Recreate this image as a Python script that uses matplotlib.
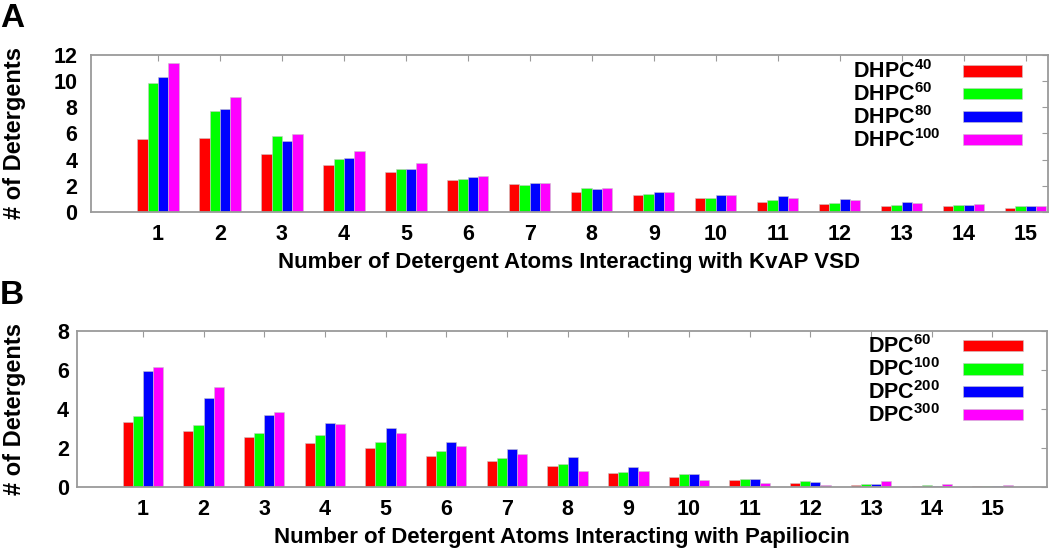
import matplotlib
matplotlib.use("Agg")
import matplotlib.pyplot as plt
from matplotlib.patches import Rectangle
import numpy as np

plt.rcParams['font.family'] = ['Liberation Sans', 'DejaVu Sans']
plt.rcParams['font.weight'] = 'bold'
plt.rcParams['mathtext.fontset'] = 'custom'
plt.rcParams['mathtext.rm'] = 'Liberation Sans:bold'
plt.rcParams['mathtext.bf'] = 'Liberation Sans:bold'
plt.rcParams['mathtext.it'] = 'Liberation Sans:bold'

# number of detergent atoms interacting
atoms = np.arange(1, 16)

# panel A: KvAP VSD in DHPC micelles
dhpc_labels = [r'$\mathrm{DHPC}^{40}$', r'$\mathrm{DHPC}^{60}$',
               r'$\mathrm{DHPC}^{80}$', r'$\mathrm{DHPC}^{100}$']
dhpc40 = [5.6, 5.67, 4.42, 3.6, 3.03, 2.42, 2.11, 1.52, 1.33, 1.1, 0.77, 0.64, 0.46, 0.44, 0.33]
dhpc60 = [9.85, 7.73, 5.84, 4.04, 3.26, 2.52, 2.06, 1.8, 1.41, 1.07, 0.92, 0.72, 0.57, 0.51, 0.44]
dhpc80 = [10.31, 7.86, 5.45, 4.09, 3.29, 2.67, 2.21, 1.72, 1.53, 1.27, 1.22, 1.0, 0.75, 0.51, 0.44]
dhpc100 = [11.39, 8.81, 5.99, 4.68, 3.75, 2.78, 2.24, 1.8, 1.53, 1.29, 1.07, 0.95, 0.69, 0.62, 0.44]

# panel B: Papiliocin in DPC micelles
dpc_labels = [r'$\mathrm{DPC}^{60}$', r'$\mathrm{DPC}^{100}$',
              r'$\mathrm{DPC}^{200}$', r'$\mathrm{DPC}^{300}$']
dpc60 = [3.33, 2.88, 2.55, 2.24, 1.98, 1.58, 1.31, 1.08, 0.72, 0.48, 0.34, 0.17, 0.1, 0.05, 0.02]
dpc100 = [3.63, 3.17, 2.75, 2.67, 2.31, 1.86, 1.48, 1.15, 0.77, 0.65, 0.4, 0.29, 0.14, 0.1, 0.03]
dpc200 = [5.97, 4.57, 3.67, 3.27, 3.01, 2.32, 1.96, 1.53, 1.03, 0.65, 0.41, 0.26, 0.14, 0.05, 0.02]
dpc300 = [6.16, 5.1, 3.86, 3.24, 2.75, 2.07, 1.69, 0.79, 0.79, 0.34, 0.19, 0.07, 0.29, 0.12, 0.07]

colors = ['#ff0000', '#00ff00', '#0000ff', '#ff00ff']
spine_col = '#9a9a9a'


def draw_panel(ax, series, labels, ymax, xlabel, xmax, ypad, ylab_x,
               text_x, sw_x, rows_y, sw_h):
    w = 1.0 / 6
    for i, vals in enumerate(series):
        ax.bar(atoms + (i - 1.5) * w, vals, width=w, color=colors[i],
               edgecolor='#c8c8c8', linewidth=0.4)
    ax.set_xlim(-0.08, xmax)
    ax.set_ylim(0, ymax)
    ax.set_xticks(atoms)
    ax.set_yticks(np.arange(0, ymax + 1, 2))
    for s in ax.spines.values():
        s.set_color(spine_col)
        s.set_linewidth(1.3)
    ax.tick_params(axis='x', bottom=False, top=True, direction='in', length=4,
                   color=spine_col, labelsize=15.5, pad=9)
    ax.tick_params(axis='y', left=False, right=True, direction='in', length=4,
                   color=spine_col, labelsize=15.5, pad=ypad)
    ax.set_xlabel(xlabel, fontsize=16, fontweight='bold', labelpad=5)
    ax.set_ylabel('# of Detergents', fontsize=17, fontweight='bold')
    ax.yaxis.set_label_coords(ylab_x, 0.5)
    # hand-made legend: label on the left, colour swatch on the right
    for i, lab in enumerate(labels):
        ax.add_patch(Rectangle((sw_x, rows_y[i] - sw_h / 2), 0.0615, sw_h,
                               transform=ax.transAxes, facecolor=colors[i],
                               edgecolor='#c8c8c8', linewidth=0.4, clip_on=False))
        ax.text(text_x, rows_y[i] - 0.045, lab, transform=ax.transAxes,
                fontsize=15.5, ha='left', va='baseline')


fig = plt.figure(figsize=(10.5, 5.57), dpi=100)
axA = fig.add_axes([0.0867, 0.6194, 0.9113, 0.2819])
axB = fig.add_axes([0.0736, 0.1262, 0.9236, 0.2795])

draw_panel(axA, [dhpc40, dhpc60, dhpc80, dhpc100], dhpc_labels, 12,
           'Number of Detergent Atoms Interacting with KvAP VSD', 15.36, 10, -0.068,
           0.796, 0.911, [0.898, 0.755, 0.608, 0.462], 0.073)
draw_panel(axB, [dpc60, dpc100, dpc200, dpc300], dpc_labels, 8,
           'Number of Detergent Atoms Interacting with Papiliocin', 15.9, 6, -0.053,
           0.8154, 0.9134, [0.904, 0.756, 0.611, 0.463], 0.071)

fig.text(0.0, 0.995, 'A', fontsize=24, fontweight='bold', va='top', ha='left')
fig.text(0.0, 0.497, 'B', fontsize=24, fontweight='bold', va='top', ha='left')

fig.savefig('out.png', dpi=100)
